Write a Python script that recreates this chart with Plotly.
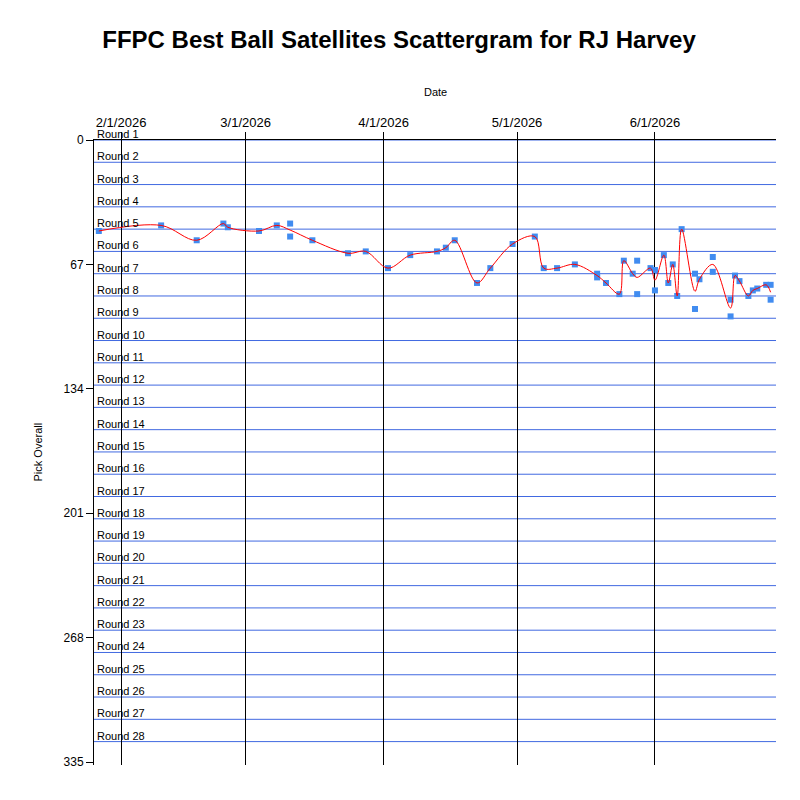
import pandas as pd
import plotly.graph_objects as go

player = "RJ Harvey"

# one entry per draft: date and overall pick
draft_dates = [
    "2026-01-27", "2026-02-10", "2026-02-18", "2026-02-24", "2026-02-25",
    "2026-03-04", "2026-03-08", "2026-03-11", "2026-03-11", "2026-03-16",
    "2026-03-24", "2026-03-28", "2026-04-02", "2026-04-07", "2026-04-13",
    "2026-04-15", "2026-04-17", "2026-04-22", "2026-04-25", "2026-04-30",
    "2026-05-05", "2026-05-07", "2026-05-10", "2026-05-14", "2026-05-19",
    "2026-05-19", "2026-05-21", "2026-05-24", "2026-05-25", "2026-05-27",
    "2026-05-28", "2026-05-28", "2026-05-31", "2026-06-01", "2026-06-01",
    "2026-06-03", "2026-06-04", "2026-06-05", "2026-06-06", "2026-06-07",
    "2026-06-10", "2026-06-10", "2026-06-11", "2026-06-14", "2026-06-14",
    "2026-06-18", "2026-06-18", "2026-06-19", "2026-06-20", "2026-06-22",
    "2026-06-23", "2026-06-24", "2026-06-26", "2026-06-27", "2026-06-27",
]
draft_picks = [
    49, 46, 54, 45, 47,
    49, 46, 45, 52, 54,
    61, 60, 69, 62, 60,
    58, 54, 77, 69, 56,
    52, 69, 69, 67, 72,
    74, 77, 83, 65, 72,
    65, 83, 69, 70, 81,
    62, 77, 67, 84, 48,
    72, 91, 75, 63, 71,
    86, 95, 73, 76, 84,
    81, 80, 78, 78, 86,
]

y_ticks = [0, 67, 134, 201, 268, 335]
teams = 12
rounds = 28

df = pd.DataFrame({"date": pd.to_datetime(draft_dates), "pick": draft_picks})
daily = df.groupby("date", as_index=False)["pick"].mean()

fig = go.Figure()
fig.add_trace(go.Scatter(x=df["date"], y=df["pick"], mode="markers",
                         marker=dict(symbol="square", size=6, color="#418CF0"),
                         name="picks"))
fig.add_trace(go.Scatter(x=daily["date"], y=daily["pick"], mode="lines",
                         line=dict(color="red", width=1, shape="spline"),
                         name="average"))

# round boundaries
for r in range(rounds):
    fig.add_shape(type="line", xref="paper", x0=0, x1=1, yref="y",
                  y0=r * teams, y1=r * teams, layer="between",
                  line=dict(color="#4169E1", width=1))
    fig.add_annotation(xref="paper", x=0, xanchor="left", xshift=1,
                       y=r * teams, yanchor="middle", yshift=6,
                       text="Round %d" % (r + 1), showarrow=False,
                       font=dict(size=11, color="black"))

fig.add_annotation(xref="paper", yref="paper", x=0.5, y=1, yshift=48,
                   xanchor="center", yanchor="middle",
                   text="Date", showarrow=False, font=dict(size=11, color="black"))
fig.add_annotation(xref="paper", yref="paper", x=0, xshift=-57, y=0.5,
                   xanchor="center", yanchor="middle",
                   text="Pick Overall", textangle=-90, showarrow=False,
                   font=dict(size=11, color="black"))

# page body has an 8px margin, so the figure is 792 and the margins are shifted
fig.update_layout(
    width=792, height=792,
    margin=dict(l=86, r=24, t=132, b=35),
    paper_bgcolor="white", plot_bgcolor="white",
    font=dict(family="Liberation Sans, Arial, sans-serif", color="black"),
    title=dict(text="<b>FFPC Best Ball Satellites Scattergram for %s</b>" % player,
               x=391 / 792, xanchor="center", y=1 - 32 / 792, yanchor="middle",
               font=dict(size=24, color="black")),
    showlegend=False,
)
fig.update_xaxes(
    side="top", type="date",
    range=["2026-01-25 22:00", "2026-06-28 05:00"],
    tick0="2026-02-01", dtick="M1", tickformat="%-m/%-d/%Y",
    ticks="outside", ticklen=7, tickcolor="black",
    showgrid=True, gridcolor="black", gridwidth=1,
    showline=True, linecolor="black", linewidth=1,
    zeroline=False, tickfont=dict(size=13),
)
fig.update_yaxes(
    range=[336.6, 0], tickmode="array", tickvals=y_ticks,
    ticks="outside", ticklen=7, tickcolor="black",
    showgrid=False, showline=True, linecolor="black", linewidth=1,
    zeroline=False, tickfont=dict(size=12),
)

fig.write_html("out.html")
